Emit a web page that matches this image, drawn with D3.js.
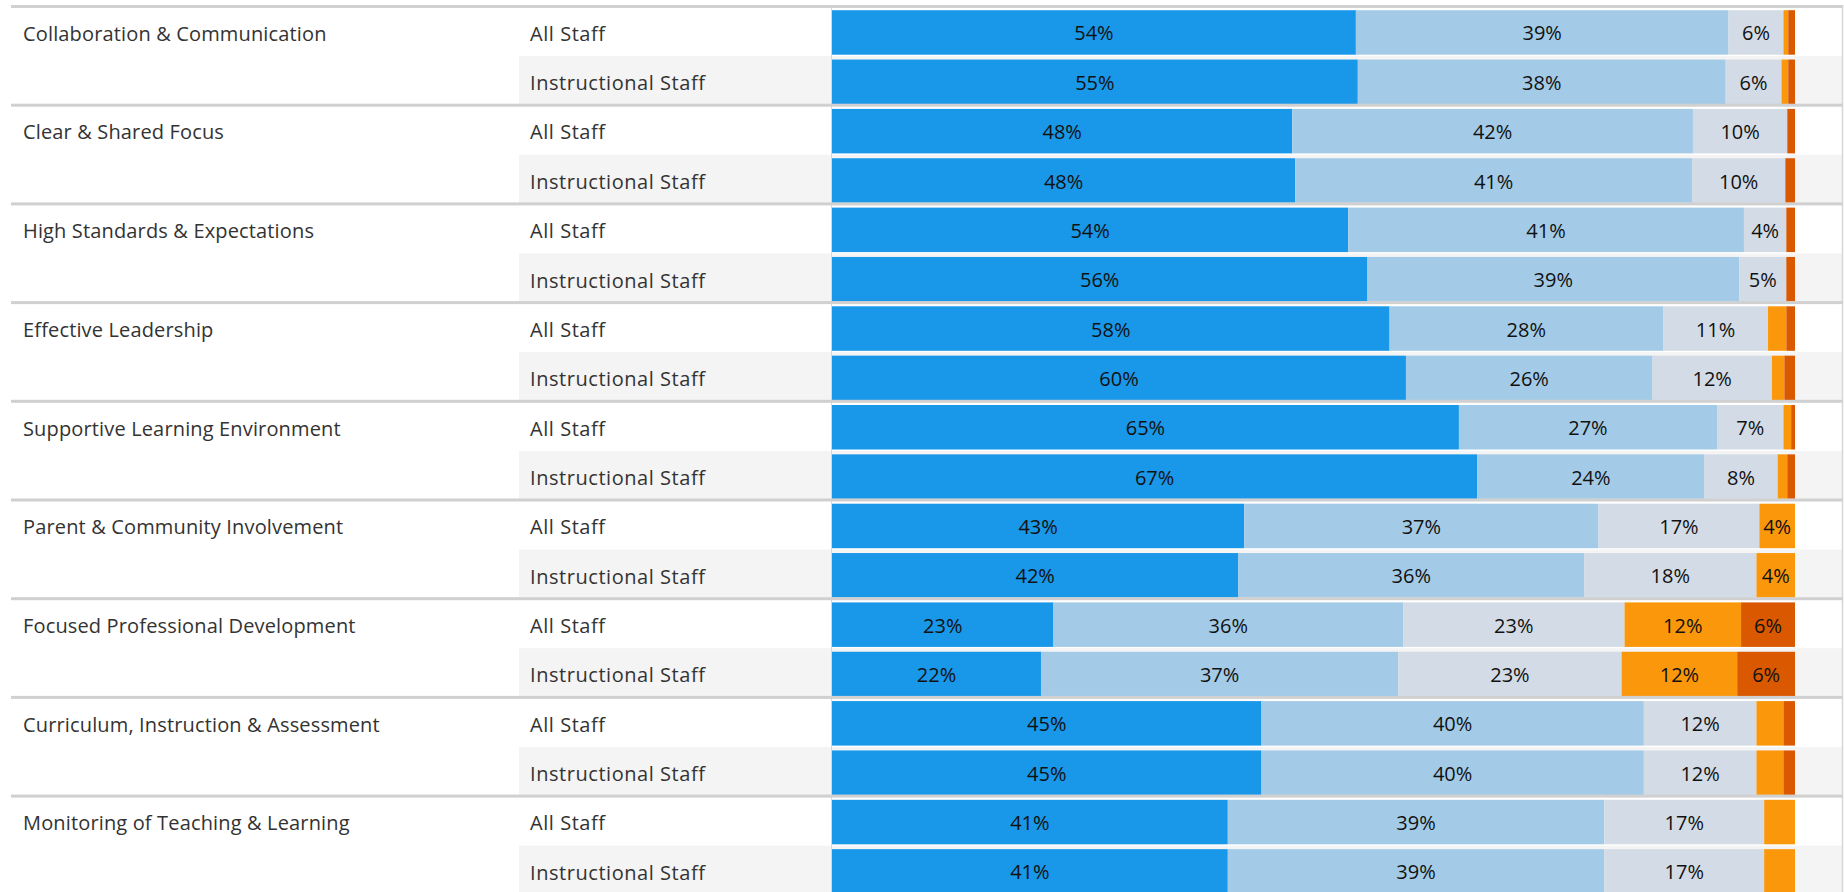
<!DOCTYPE html>
<html>
<head>
<meta charset="utf-8">
<script src="https://cdn.jsdelivr.net/npm/d3@7"></script>
<style>
  html, body { margin: 0; padding: 0; background: #ffffff; }
  svg { display: block; }
  text { font-family: "Open Sans", Lato, sans-serif; }
</style>
</head>
<body>
<svg id="chart" width="1844" height="892"></svg>
<script>
// ---------- data ----------
const categories = [
  "Collaboration & Communication",
  "Clear & Shared Focus",
  "High Standards & Expectations",
  "Effective Leadership",
  "Supportive Learning Environment",
  "Parent & Community Involvement",
  "Focused Professional Development",
  "Curriculum, Instruction & Assessment",
  "Monitoring of Teaching & Learning"
];
const staffTypes = ["All Staff", "Instructional Staff"];
const responseKeys = ["Strongly Agree", "Agree", "Neutral", "Disagree", "Strongly Disagree"];
// values per row, in order: category 1 All, category 1 Instructional, category 2 All, ...
const stronglyAgree    = [54.4, 54.6, 47.8, 48.1, 53.6, 55.6, 57.9, 59.6, 65.1, 67.0, 42.8, 42.2, 23.0, 21.7, 44.6, 44.6, 41.1, 41.1];
const agree            = [38.7, 38.2, 41.6, 41.2, 41.1, 38.6, 28.4, 25.6, 26.8, 23.6, 36.8, 35.9, 36.3, 37.1, 39.7, 39.7, 39.1, 39.1];
const neutral          = [5.7, 5.8, 9.8, 9.7, 4.4, 4.9, 10.9, 12.4, 6.9, 7.6, 16.7, 17.9, 23.0, 23.2, 11.7, 11.7, 16.6, 16.6];
const disagree         = [0.5, 0.7, 0.0, 0.0, 0.0, 0.0, 1.9, 1.3, 0.8, 1.0, 3.7, 4.0, 12.1, 12.0, 2.8, 2.8, 3.2, 3.2];
const stronglyDisagree = [0.7, 0.7, 0.8, 1.0, 0.9, 0.9, 0.9, 1.1, 0.4, 0.8, 0.0, 0.0, 5.6, 6.0, 1.2, 1.2, 0.0, 0.0];
const seriesValues = [stronglyAgree, agree, neutral, disagree, stronglyDisagree];
const colors = ["#1997e8", "#a3cbe7", "#d3dce6", "#fb970b", "#d95800"];
const labelMin = 3.5; // segments smaller than this carry no label

// ---------- build rows ----------
const rows = [];
categories.forEach((c, ci) => {
  staffTypes.forEach((s, si) => {
    const idx = ci * 2 + si;
    const row = { key: idx, category: c, staff: s, ci, si };
    responseKeys.forEach((k, ki) => row[k] = seriesValues[ki][idx]);
    rows.push(row);
  });
});

// ---------- layout ----------
const W = 1844, H = 892;
const barX0 = 832, barX1 = 1795;
const rightEdge = 1842;
const subLabelX = 530, subBgX = 519, catX = 23, lineX0 = 11;

const svg = d3.select("#chart");
const x = d3.scaleLinear().domain([0, 100]).range([barX0, barX1]);
const y = d3.scaleBand().domain(rows.map(d => d.key)).range([5.5, 5.5 + 18 * 49.35]);
const step = y.step();

const stack = d3.stack().keys(responseKeys);
const stacked = stack(rows);

// row backgrounds (instructional rows)
svg.append("g").selectAll("rect")
  .data(rows.filter(d => d.si === 1))
  .join("rect")
  .attr("x", subBgX)
  .attr("y", d => y(d.key) + 1.2)
  .attr("width", rightEdge - subBgX)
  .attr("height", step - 1.2)
  .attr("fill", "#f4f4f4");

// bars
const barG = svg.append("g");
stacked.forEach((layer, li) => {
  barG.append("g").selectAll("rect")
    .data(layer)
    .join("rect")
    .attr("x", d => x(d[0]))
    .attr("y", d => y(d.data.key) + 4.7)
    .attr("width", d => Math.max(0, x(d[1]) - x(d[0])))
    .attr("height", step - 4.85)
    .attr("fill", colors[li]);
});

// bar labels
const lblG = svg.append("g");
stacked.forEach((layer, li) => {
  lblG.append("g").selectAll("text")
    .data(layer.filter(d => (d[1] - d[0]) >= labelMin))
    .join("text")
    .attr("x", d => (x(d[0]) + x(d[1])) / 2)
    .attr("y", d => y(d.data.key) + 5.2 + (step - 4.85) / 2)
    .attr("text-anchor", "middle")
    .attr("dominant-baseline", "central")
    .attr("font-size", 20)
    .attr("fill", "#111")
    .text(d => Math.round(d[1] - d[0]) + "%");
});

// vertical lines
svg.append("line").attr("x1", barX0 - 0.5).attr("x2", barX0 - 0.5).attr("y1", 5).attr("y2", H)
  .attr("stroke", "#d6d6d6").attr("stroke-width", 1);
svg.append("line").attr("x1", rightEdge + 0.5).attr("x2", rightEdge + 0.5).attr("y1", 5).attr("y2", H)
  .attr("stroke", "#d6d6d6").attr("stroke-width", 1.5);

// group separators
svg.append("g").selectAll("rect")
  .data(rows.filter(d => d.si === 0))
  .join("rect")
  .attr("x", lineX0)
  .attr("y", d => y(d.key) - 0.5)
  .attr("width", rightEdge + 1 - lineX0)
  .attr("height", 3)
  .attr("fill", "#d0d0d0");

// category labels
svg.append("g").selectAll("text")
  .data(rows.filter(d => d.si === 0))
  .join("text")
  .attr("x", catX)
  .attr("y", d => y(d.key) + 5.5 + (step - 4.85) / 2)
  .attr("dominant-baseline", "central")
  .attr("font-size", 20)
  .attr("letter-spacing", 0.15)
  .attr("fill", "#333")
  .text(d => d.category);

// staff labels
svg.append("g").selectAll("text")
  .data(rows)
  .join("text")
  .attr("x", subLabelX)
  .attr("y", d => y(d.key) + 5.5 + (step - 4.85) / 2)
  .attr("dominant-baseline", "central")
  .attr("font-size", 20)
  .attr("letter-spacing", 0.55)
  .attr("fill", "#333")
  .text(d => d.staff);
</script>
</body>
</html>
